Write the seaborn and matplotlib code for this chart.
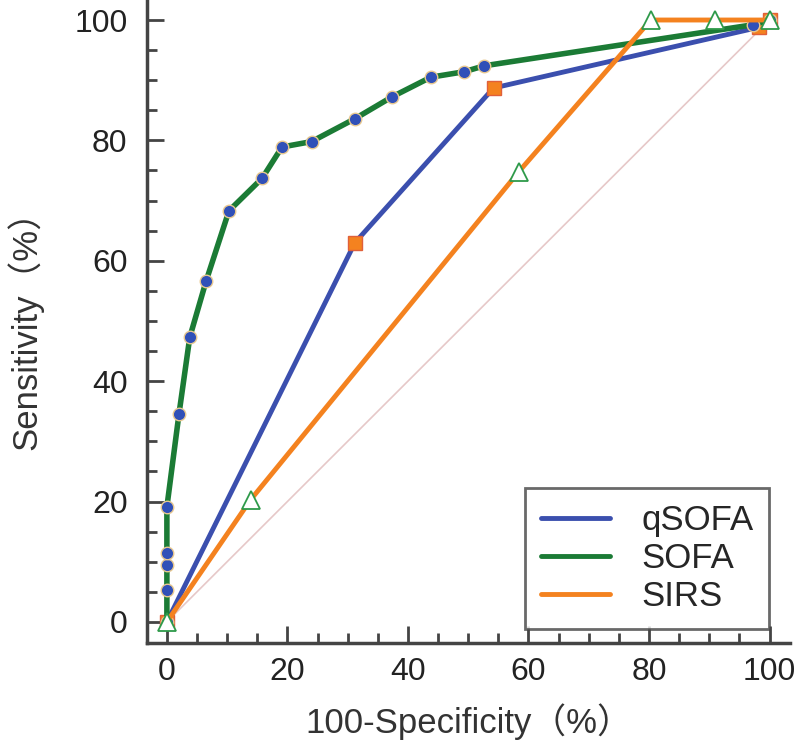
import matplotlib
matplotlib.use("Agg")
import matplotlib.pyplot as plt
import seaborn as sns
import pandas as pd
from matplotlib.ticker import MultipleLocator

# ROC points (100-specificity, sensitivity)
sofa_x = [0, 0, 0, 0, 0, 2.0, 3.8, 6.5, 10.3, 15.8, 19.1, 24.0, 31.2, 37.3, 43.8, 49.3, 52.7, 97.2, 100]
sofa_y = [0, 5.3, 9.5, 11.5, 19.1, 34.5, 47.3, 56.6, 68.3, 73.7, 78.9, 79.8, 83.6, 87.2, 90.5, 91.4, 92.4, 99.2, 100]

qsofa_x = [0, 31.2, 54.2, 98.3, 100]
qsofa_y = [0, 63.0, 88.7, 98.8, 100]

sirs_x = [0, 13.9, 58.4, 80.3, 90.9, 100]
sirs_y = [0, 20.3, 74.8, 100, 100, 100]

sns.set_style("ticks")
plt.rcParams["font.family"] = ["Liberation Sans", "Noto Sans CJK SC"]

fig = plt.figure(figsize=(8, 7.44), dpi=100)
ax = fig.add_axes([0.18375, 0.1358, 0.80375, 0.864])

# chance line
sns.lineplot(x=[0, 100], y=[0, 100], ax=ax, color="#e6c8c8", linewidth=1.2)

blue = "#3b4fae"
green = "#1b7b35"
orange = "#f4821f"

qsofa = pd.DataFrame({"x": qsofa_x, "y": qsofa_y})
sofa = pd.DataFrame({"x": sofa_x, "y": sofa_y})
sirs = pd.DataFrame({"x": sirs_x, "y": sirs_y})

sns.lineplot(data=qsofa, x="x", y="y", ax=ax, color=blue, linewidth=3.5,
             sort=False, estimator=None, label="qSOFA", marker="s", markersize=10,
             markerfacecolor=orange, markeredgecolor="#e0603a", markeredgewidth=1)
sns.lineplot(data=sofa, x="x", y="y", ax=ax, color=green, linewidth=4,
             sort=False, estimator=None, label="SOFA", marker="o", markersize=9,
             markerfacecolor="#3050b8", markeredgecolor="#e8c890", markeredgewidth=1)
sns.lineplot(data=sirs, x="x", y="y", ax=ax, color=orange, linewidth=3.5,
             sort=False, estimator=None, label="SIRS", marker="^", markersize=13,
             markerfacecolor="white", markeredgecolor="#2e9a4a", markeredgewidth=1.3)

ax.set_xlim(-3.3, 103.4)
ax.set_ylim(-3.5, 103.3)
ax.xaxis.set_major_locator(MultipleLocator(20))
ax.xaxis.set_minor_locator(MultipleLocator(5))
ax.yaxis.set_major_locator(MultipleLocator(20))
ax.yaxis.set_minor_locator(MultipleLocator(5))
ax.tick_params(which="major", direction="in", length=12, width=2, color="#444444",
               labelsize=23, labelcolor="#222222")
ax.tick_params(which="minor", direction="in", length=7, width=2, color="#444444")
ax.tick_params(axis="x", which="major", pad=10)
ax.tick_params(axis="y", which="major", pad=14)

for side in ["top", "right"]:
    ax.spines[side].set_visible(False)
for side in ["left", "bottom"]:
    ax.spines[side].set_linewidth(2.5)
    ax.spines[side].set_color("#444444")

ax.set_xlabel("100-Specificity（%）", fontsize=25, labelpad=12, color="#333333")
ax.set_ylabel("Sensitivity（%）", fontsize=25, labelpad=22, color="#333333")

leg = ax.legend(loc="lower right", bbox_to_anchor=(0.995, -0.005), fontsize=25,
                frameon=True, fancybox=False, handlelength=2.0, handletextpad=0.9,
                borderpad=0.45, labelspacing=0.15, borderaxespad=0.5)
leg.get_frame().set_edgecolor("#444444")
leg.get_frame().set_linewidth(2)
for h in leg.legend_handles:
    h.set_marker("")
    h.set_linewidth(3.5)

fig.savefig("out.png", dpi=100)
